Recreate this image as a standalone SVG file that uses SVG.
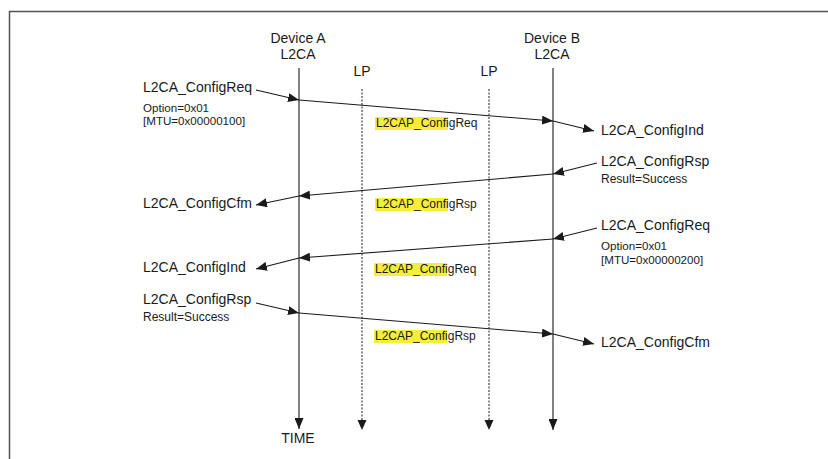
<svg xmlns="http://www.w3.org/2000/svg" width="828" height="459" viewBox="0 0 828 459">
<style>
text{font-family:"Liberation Sans",Arial,Helvetica,sans-serif;fill:#1a1a1a}
.t{font-size:14px}
.s{font-size:12px}
.o{font-size:11.6px}
.c{text-anchor:middle}
.dash{stroke:#1a1a1a;stroke-width:1;stroke-dasharray:2 1.5;fill:none}
.msg{stroke:#1a1a1a;stroke-width:1.1;fill:none;marker-end:url(#ah)}
.hl{fill:#f5ee3a}
</style>
<defs>
<marker id="ah" markerUnits="userSpaceOnUse" markerWidth="12" markerHeight="9" refX="11" refY="4.5" orient="auto">
<path d="M0,0 L11,4.5 L0,9 z" fill="#1a1a1a"/>
</marker>
</defs>
<rect x="9.5" y="11.5" width="840" height="470" fill="#fff" stroke="#555" stroke-width="1.5"/>

<g id="deviceA">
<text class="t c" x="298" y="43">Device A</text>
<text class="t c" x="298" y="59">L2CA</text>
<line class="msg" x1="299" y1="68" x2="299" y2="429"/>
<text class="t c" x="298" y="443">TIME</text>
</g>
<g id="lpA">
<text class="t c" x="362" y="76">LP</text>
<line class="dash" x1="362" y1="89" x2="362" y2="420"/>
<path d="M357.5,420 L366.5,420 L362,430 z" fill="#1a1a1a"/>
</g>
<g id="lpB">
<text class="t c" x="489" y="76">LP</text>
<line class="dash" x1="489" y1="89" x2="489" y2="420"/>
<path d="M484.5,420 L493.5,420 L489,430 z" fill="#1a1a1a"/>
</g>
<g id="deviceB">
<text class="t c" x="552" y="43">Device B</text>
<text class="t c" x="552" y="59">L2CA</text>
<line class="msg" x1="553" y1="68" x2="553" y2="430"/>
</g>

<g id="connectors">
<line class="msg" x1="256" y1="90" x2="299" y2="100"/>
<line class="msg" x1="299" y1="100" x2="553" y2="121"/>
<line class="msg" x1="553" y1="121" x2="594" y2="131"/>

<line class="msg" x1="597" y1="163" x2="553" y2="174"/>
<line class="msg" x1="553" y1="174" x2="299" y2="196"/>
<line class="msg" x1="299" y1="196" x2="256" y2="205"/>

<line class="msg" x1="597" y1="228" x2="553" y2="239"/>
<line class="msg" x1="553" y1="239" x2="299" y2="258"/>
<line class="msg" x1="299" y1="258" x2="256" y2="269"/>

<line class="msg" x1="256" y1="303" x2="299" y2="313"/>
<line class="msg" x1="299" y1="313" x2="553" y2="334"/>
<line class="msg" x1="553" y1="334" x2="594" y2="344"/>
</g>

<g id="msg1">
<text class="t" x="143" y="92">L2CA_ConfigReq</text>
<text class="o" x="143" y="112">Option=0x01</text>
<text class="o" x="143" y="125">[MTU=0x00000100]</text>
<rect class="hl" x="375" y="117" width="73" height="13"/>
<text class="s" x="376" y="127">L2CAP_ConfigReq</text>
<text class="t" x="601" y="135">L2CA_ConfigInd</text>
</g>
<g id="msg2">
<text class="t" x="601" y="166">L2CA_ConfigRsp</text>
<text class="s" x="601" y="183">Result=Success</text>
<rect class="hl" x="375" y="198" width="73" height="13"/>
<text class="s" x="376" y="208">L2CAP_ConfigRsp</text>
<text class="t" x="143" y="208">L2CA_ConfigCfm</text>
</g>
<g id="msg3">
<text class="t" x="601" y="230">L2CA_ConfigReq</text>
<text class="o" x="601" y="250">Option=0x01</text>
<text class="o" x="601" y="264">[MTU=0x00000200]</text>
<rect class="hl" x="374" y="263" width="73" height="13"/>
<text class="s" x="375" y="273">L2CAP_ConfigReq</text>
<text class="t" x="143" y="272">L2CA_ConfigInd</text>
</g>
<g id="msg4">
<text class="t" x="143" y="304">L2CA_ConfigRsp</text>
<text class="s" x="143" y="321">Result=Success</text>
<rect class="hl" x="374" y="330" width="73" height="13"/>
<text class="s" x="375" y="340">L2CAP_ConfigRsp</text>
<text class="t" x="601" y="347">L2CA_ConfigCfm</text>
</g>
</svg>
